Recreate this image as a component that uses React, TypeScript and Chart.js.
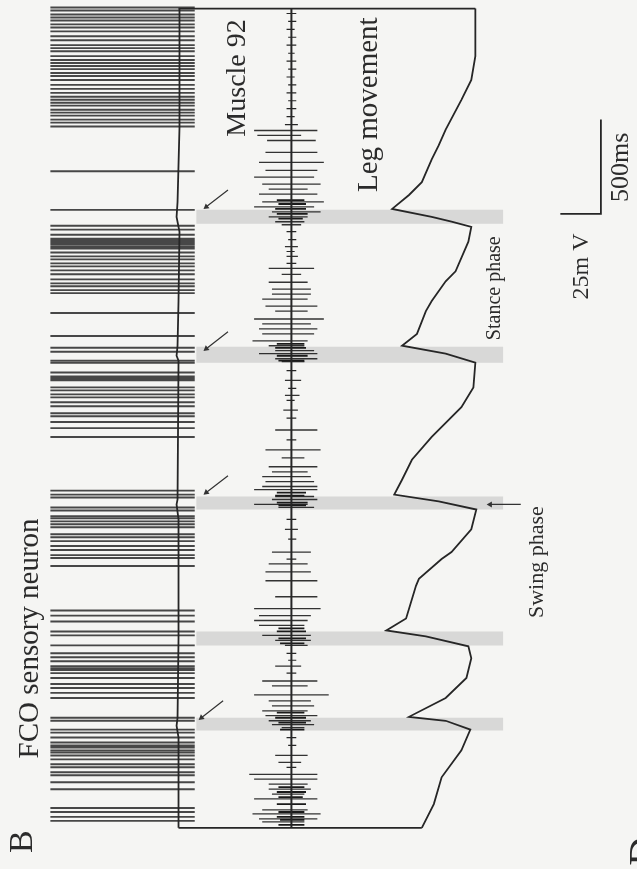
import React, { useEffect, useRef } from "react";
import { Chart, registerables } from "chart.js";

Chart.register(...registerables);

// ---- axes (time in ms, vertical; amplitude in mV, horizontal) ----
const TIME_MIN = -200;
const TIME_MAX = 4374;
const AMP_MIN = 0;
const AMP_MAX = 388.4;
const TRACE_START = 0;
const TRACE_END = 4347;

// ---- FCO sensory neuron (intracellular) ----
const FCO_BASE = 107.9;
const FCO_SPIKE_LOW = -79;
const FCO_SPIKE_HIGH = 10;
const FCO_BASELINE_T = [4347, 3716, 3321, 3242, 3163, 2795, 2558, 2505, 2479, 1742, 1716, 1637, 1005, 584, 542, 479, 0];
const FCO_BASELINE_V = [0.6, 0.6, -0.6, -1.2, 0.6, 0, -0.6, -1.2, 0, -0.6, -1.2, 0, 0, -0.6, -1.2, 0, 0];
const FCO_SPIKE_TIMES = [
  4353, 4337, 4316, 4300, 4284, 4263, 4247, 4226, 4200, 4179, 4153, 4137, 4121, 4095, 4074, 4058, 4042,
  4026, 4005, 3989, 3968, 3942, 3921, 3900, 3879, 3863, 3847, 3832, 3810, 3795, 3779, 3758, 3742, 3721,
  3484, 3279,
  3195, 3174, 3147, 3126, 3116, 3110, 3100, 3095, 3084, 3074, 3053, 3032, 3016, 2995, 2979, 2958, 2937,
  2910, 2889, 2874, 2853, 2837,
  2732, 2610,
  2547, 2526, 2479, 2468, 2416, 2395, 2384, 2374, 2337, 2321, 2300, 2284, 2258, 2237, 2200, 2184, 2153,
  2121, 2074,
  1789, 1768, 1753, 1700, 1684, 1653, 1642, 1626, 1611, 1595, 1558, 1542, 1521, 1495, 1474, 1447, 1432, 1389,
  1153, 1126, 1095, 1042, 1021, 968, 926, 905, 884, 858, 847, 837, 821, 795, 763, 742, 716, 689,
  584, 568,
  521, 505, 479, 453, 437, 426, 411, 400, 384, 363, 337, 321, 295, 279, 242, 205,
  105, 84, 58, 37,
];

// ---- Muscle 92 EMG: [time ms, min mV, max mV] relative to baseline ----
const EMG_BASE = 177.5;
const EMG_SPIKES: number[][] = [
  [3700, -23, 16], [3674, -21, 6], [3647, -15, 15], [3584, -16, 16], [3531, -20, 20], [3489, -16, 16],
  [3453, -23, 14], [3416, -18, 18], [3389, -14, 10], [3363, -20, 16], [3321, -18, 20], [3295, -23, 14],
  [3268, -12, 18], [3242, -14, 10], [3216, -10, 8], [3200, -6, 6], [3084, -4, 4], [3032, -3, 4],
  [2968, -14, 14], [2937, -6, 6], [2895, -14, 10], [2858, -12, 12], [2832, -12, 12], [2805, -18, 10],
  [2768, -16, 16], [2742, -10, 10], [2700, -23, 20], [2674, -18, 12], [2647, -20, 16], [2621, -18, 14],
  [2584, -24, 10], [2558, -14, 8], [2532, -10, 14], [2516, -20, 16], [2489, -10, 16], [2474, -6, 8],
  [2374, -4, 6], [2295, -4, 5], [2216, -5, 4], [2111, -10, 16], [2005, -16, 18], [1963, -6, 8],
  [1916, -14, 16], [1889, -12, 10], [1863, -18, 12], [1837, -16, 14], [1811, -18, 16], [1795, -23, 16],
  [1758, -10, 14], [1742, -12, 16], [1716, -23, 10], [1700, -8, 14], [1584, -4, 4], [1463, -12, 12],
  [1400, -14, 10], [1358, -16, 12], [1311, -16, 16], [1226, -10, 16], [1163, -23, 18], [1126, -20, 12],
  [1100, -23, 10], [1074, -20, 8], [1021, -18, 12], [995, -10, 12], [968, -4, 10], [858, -10, 6],
  [779, -18, 16], [753, -12, 10], [705, -23, 23], [674, -14, 12], [647, -12, 14], [621, -18, 10],
  [595, -16, 16], [568, -14, 12], [547, -12, 14], [532, -6, 8], [384, -10, 10], [347, -8, 6],
  [284, -26, 16], [258, -23, 16], [232, -14, 10], [205, -14, 12], [179, -12, 8], [153, -23, 16],
  [95, -18, 10], [74, -24, 18], [47, -20, 16], [32, -18, 8],
];
const EMG_DENSE: number[][] = [
  [3331, -9, 8], [3310, -8, 9], [3284, -10, 9], [3258, -9, 10], [3232, -8, 7],
  [2568, -9, 8], [2547, -10, 9], [2505, -9, 10], [2479, -8, 8],
  [1779, -9, 9], [1763, -10, 8], [1726, -9, 10], [1711, -8, 9],
  [1058, -8, 8], [1042, -9, 9], [1005, -8, 9], [979, -7, 8],
  [611, -9, 8], [584, -10, 9], [558, -8, 9], [521, -7, 8],
  [216, -8, 8], [190, -9, 9], [163, -8, 7], [126, -9, 9], [84, -8, 8], [58, -9, 8], [42, -7, 8], [16, -8, 8],
];
const EMG_NOISE: number[][] = [
  [4321, -3, 3], [4279, -2, 3], [4237, -3, 2], [4195, -2, 3], [4153, -3, 3], [4110, -2, 2], [4068, -3, 3],
  [4026, -2, 3], [3984, -3, 2], [3942, -2, 3], [3900, -3, 3], [3858, -2, 3], [3816, -3, 3], [3774, -3, 2],
  [3731, -4, 4], [3163, -3, 3], [3121, -2, 3], [3058, -3, 2], [2995, -3, 3], [2426, -3, 3], [2332, -2, 3],
  [2268, -3, 2], [2174, -3, 3], [2058, -3, 3], [1637, -3, 3], [1532, -2, 3], [1426, -3, 3], [926, -3, 3],
  [889, -2, 3], [821, -3, 3], [479, -3, 3], [437, -2, 3], [321, -3, 3],
];

// ---- Leg movement ----
const LEG_T = [
  4347, 4095, 3968, 3863, 3705, 3621, 3547, 3426, 3358, 3284, 3242, 3216, 3189, 3110, 2953, 2900, 2795,
  2742, 2621, 2558, 2516, 2468, 2337, 2232, 2074, 1953, 1847, 1768, 1732, 1689, 1584, 1463, 1426, 1321,
  1284, 1111, 1047, 1016, 963, 900, 795, 689, 589, 568, 521, 411, 268, 126, 0,
];
const LEG_V = [
  290.9, 290.9, 288.4, 282.3, 272.6, 268.3, 264.0, 257.9, 250.0, 239.6, 264.0, 276.2, 288.4, 286.6, 278.7,
  272.6, 264.0, 260.4, 254.9, 245.7, 272.6, 290.9, 289.7, 282.3, 264.0, 251.8, 245.7, 240.9, 268.3, 291.5,
  288.4, 276.2, 270.1, 256.1, 254.3, 248.2, 236.0, 260.4, 286.6, 288.4, 285.4, 272.6, 250.0, 272.6, 287.8,
  282.3, 270.1, 265.3, 257.9,
];

// ---- shaded phases (start, end ms) ----
const PHASE_BANDS: number[][] = [
  [3205, 3279], [2468, 2553], [1689, 1758], [968, 1042], [516, 584],
];
const BAND_V_FROM = 118.9;
const BAND_V_TO = 308;

// ---- arrows: [head ms, head mV, tail ms, tail mV] ----
const ARROWS: number[][] = [
  [3295, 125.0, 3384, 138.4],
  [2542, 125.0, 2632, 138.4],
  [1779, 125.0, 1868, 138.4],
  [584, 122.0, 674, 135.4],
  [1716, 300.0, 1716, 318.9],
];
const ARROW_ROT = [232, 232, 232, 232, 270];

// ---- scale bar ----
const SCALE_MS = 500;
const SCALE_MV = 25;
const SCALE_CORNER_T = 3258;
const SCALE_CORNER_V = 368.3;

type Label = { text: string; v: number; t: number; size: number };
const LABELS: Label[] = [
  { text: "B", v: 12.2, t: -74, size: 34 },
  { text: "FCO sensory neuron", v: 16.5, t: 1005, size: 29 },
  { text: "Muscle 92", v: 144.5, t: 3979, size: 28 },
  { text: "Leg movement", v: 225.6, t: 3837, size: 29 },
  { text: "Stance phase", v: 303, t: 2863, size: 20 },
  { text: "Swing phase", v: 329.3, t: 1410, size: 22 },
  { text: "25m V", v: 356.7, t: 2979, size: 24 },
  { text: "500ms", v: 381.1, t: 3505, size: 26 },
  { text: "D", v: 396, t: -125, size: 40 },
];

const INK = "#262626";

export default function App() {
  const ref = useRef<HTMLCanvasElement | null>(null);

  useEffect(() => {
    if (!ref.current) return;
    const gap = (v: number) => ({ x: v, y: null as any });

    const fcoSpikes: any[] = [];
    FCO_SPIKE_TIMES.forEach((t) => {
      fcoSpikes.push({ x: FCO_BASE + FCO_SPIKE_LOW, y: t }, { x: FCO_BASE + FCO_SPIKE_HIGH, y: t }, gap(FCO_BASE));
    });
    const emgSeg = (arr: number[][]) => {
      const out: any[] = [];
      arr.forEach(([t, lo, hi]) => {
        out.push({ x: EMG_BASE + lo, y: t }, { x: EMG_BASE + hi, y: t }, gap(EMG_BASE));
      });
      return out;
    };
    const fcoBase = FCO_BASELINE_T.map((t, i) => ({ x: FCO_BASE + FCO_BASELINE_V[i], y: t }));
    const emgBase = [{ x: EMG_BASE, y: TRACE_START }, { x: EMG_BASE, y: TRACE_END }];
    const leg = LEG_T.map((t, i) => ({ x: LEG_V[i], y: t }));
    const frame = [
      { x: FCO_BASE, y: TRACE_END }, { x: LEG_V[0], y: TRACE_END }, gap(0),
      { x: FCO_BASE, y: TRACE_START }, { x: LEG_V[LEG_V.length - 1], y: TRACE_START },
    ];
    const shafts: any[] = [];
    ARROWS.forEach(([ht, hv, tt, tv]) => {
      shafts.push({ x: tv, y: tt }, { x: hv, y: ht }, gap(0));
    });
    const heads = ARROWS.map(([ht, hv]) => ({ x: hv, y: ht }));
    const scaleBar = [
      { x: SCALE_CORNER_V, y: SCALE_CORNER_T + SCALE_MS },
      { x: SCALE_CORNER_V, y: SCALE_CORNER_T },
      { x: SCALE_CORNER_V - SCALE_MV, y: SCALE_CORNER_T },
    ];

    const lineDs = (data: any[], color: string, width: number, order = 0) => ({
      type: "line" as const,
      data,
      borderColor: color,
      backgroundColor: color,
      borderWidth: width,
      pointRadius: 0,
      pointHoverRadius: 0,
      fill: false,
      spanGaps: false,
      tension: 0,
      order,
    });

    const bands = PHASE_BANDS.map(([a, b]) => ({
      type: "line" as const,
      data: [
        { x: BAND_V_FROM, y: b }, { x: BAND_V_TO, y: b }, { x: BAND_V_TO, y: a }, { x: BAND_V_FROM, y: a }, { x: BAND_V_FROM, y: b },
      ],
      borderWidth: 0,
      borderColor: "rgba(0,0,0,0)",
      backgroundColor: "rgba(196,196,196,0.6)",
      pointRadius: 0,
      fill: "shape" as any,
      tension: 0,
      order: 10,
    }));

    const bgPlugin = {
      id: "paper",
      beforeDraw(chart: any) {
        const c = chart.ctx;
        c.save();
        c.fillStyle = "#f5f5f3";
        c.fillRect(0, 0, chart.width, chart.height);
        c.restore();
      },
    };
    const textPlugin = {
      id: "labels",
      afterDatasetsDraw(chart: any) {
        const c = chart.ctx;
        const xs = chart.scales.x;
        const ys = chart.scales.y;
        LABELS.forEach((l) => {
          const px = xs.getPixelForValue(l.v);
          const py = ys.getPixelForValue(l.t);
          c.save();
          c.translate(px, py);
          c.rotate(-Math.PI / 2);
          c.font = `${l.size}px "Liberation Serif", "DejaVu Serif", serif`;
          c.fillStyle = "#2b2b2b";
          c.textAlign = "center";
          c.textBaseline = "middle";
          c.fillText(l.text, 0, 0);
          c.restore();
        });
      },
    };

    const chart = new Chart(ref.current, {
      type: "line",
      data: {
        datasets: [
          ...bands,
          lineDs(fcoSpikes, "rgba(40,40,40,0.85)", 1.9, 2),
          lineDs(fcoBase, INK, 1.8, 1),
          lineDs(emgSeg(EMG_NOISE), INK, 1.2, 2),
          lineDs(emgSeg(EMG_DENSE), "#1a1a1a", 1.8, 2),
          lineDs(emgSeg(EMG_SPIKES), "rgba(30,30,30,0.9)", 1.3, 2),
          lineDs(emgBase, INK, 2, 1),
          lineDs(leg, INK, 1.8, 1),
          lineDs(frame, INK, 1.8, 1),
          lineDs(shafts, "#333", 1.2, 1),
          {
            type: "line" as const,
            data: heads,
            showLine: false,
            pointStyle: "triangle",
            pointRadius: 3.5,
            pointHoverRadius: 3.5,
            rotation: ARROW_ROT,
            backgroundColor: "#333",
            borderColor: "#333",
            borderWidth: 0,
            order: 0,
          } as any,
          lineDs(scaleBar, INK, 1.8, 1),
        ] as any,
      },
      options: {
        animation: false,
        responsive: false,
        maintainAspectRatio: false,
        events: [],
        layout: { padding: 0 },
        plugins: { legend: { display: false }, tooltip: { enabled: false }, title: { display: false } },
        scales: {
          x: { type: "linear", min: AMP_MIN, max: AMP_MAX, display: false },
          y: { type: "linear", min: TIME_MIN, max: TIME_MAX, display: false },
        },
      },
      plugins: [bgPlugin, textPlugin],
    });
    return () => chart.destroy();
  }, []);

  return (
    <div style={{ position: "absolute", left: 0, top: 0, width: 637, height: 869 }}>
      <canvas ref={ref} width={637} height={869} style={{ width: 637, height: 869, display: "block" }} />
    </div>
  );
}
